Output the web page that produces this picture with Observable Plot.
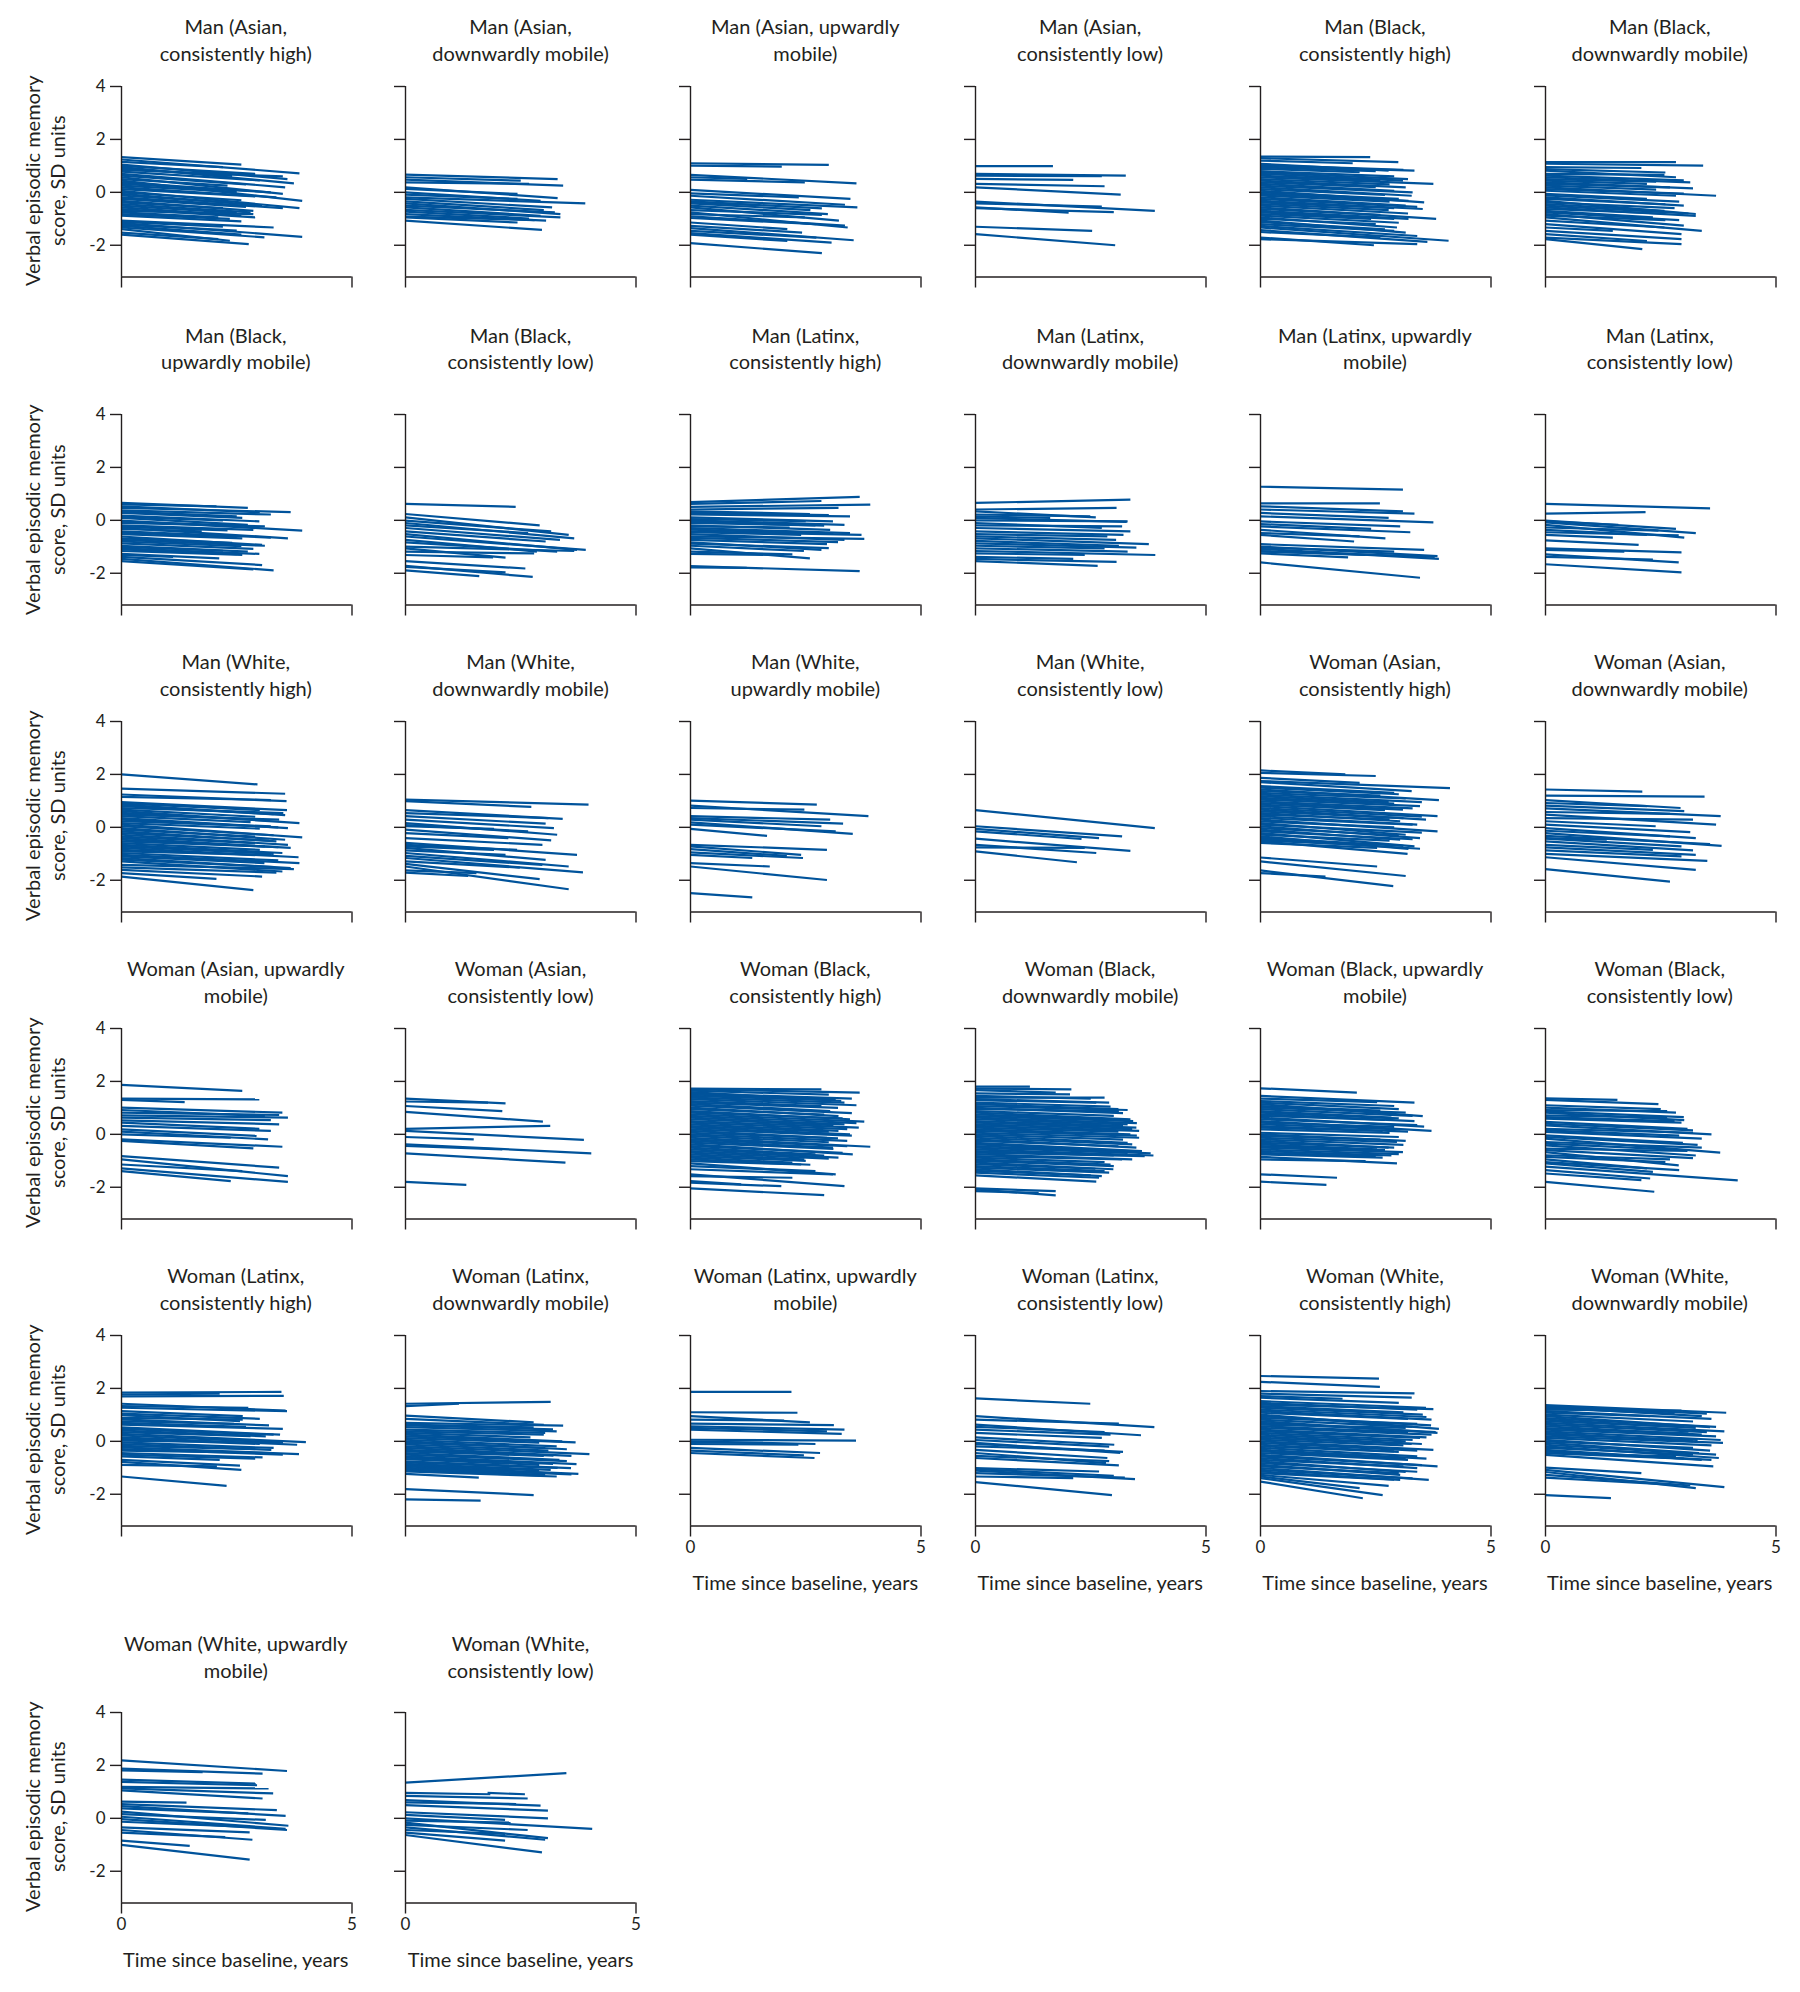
<!DOCTYPE html>
<html><head><meta charset="utf-8">
<script src="https://cdn.jsdelivr.net/npm/d3@7"></script>
<script src="https://cdn.jsdelivr.net/npm/@observablehq/plot@0.6"></script>
<style>
body{margin:0;background:#fff}
#root{position:relative;width:1800px;height:1992px;font-family:Lato,sans-serif;color:#231f20;overflow:hidden}
.ttl{position:absolute;width:320px;text-align:center;font-size:20px;line-height:26.5px;white-space:nowrap}
.ylab{position:absolute;width:320px;height:49.4px;text-align:center;font-size:20px;line-height:24.7px;transform:rotate(-90deg);white-space:nowrap}
.xlab{position:absolute;width:320px;text-align:center;font-size:20px;line-height:24px;white-space:nowrap}
.pnl{position:absolute}
</style></head>
<body><div id="root"></div>
<script>
// ---- Data: each line is [y at baseline, last time (years), y at last time] (or [x0, y0, x1, y1])
const manAsianHigh = [[1.33,2.6,1.05],[1.24,3.86,0.72],[1.15,2.2,0.95],[1.05,3.6,0.5],[1.0,2.9,0.7],[0.95,3.74,0.34],[0.9,2.4,0.62],[0.85,3.5,0.6],[0.78,3.0,0.45],[0.7,3.55,0.19],[0.63,2.7,0.3],[0.57,3.5,-0.06],[0.5,2.3,0.25],[0.44,3.92,-0.32],[0.38,2.8,0.05],[0.32,3.24,0],[0.25,2.5,0.02],[0.19,3.36,-0.19],[0.12,2.9,-0.15],[0.06,3.86,-0.6],[0,2.6,-0.3],[-0.06,3.05,-0.5],[-0.12,2.3,-0.38],[-0.19,3.5,-0.6],[-0.25,2.7,-0.55],[-0.32,2.86,-0.7],[-0.38,2.2,-0.6],[-0.44,2.8,-0.76],[-0.5,2.5,-0.78],[-0.57,2.6,-0.88],[-0.63,2.9,-0.95],[-0.7,2.86,-0.82],[-0.76,2.1,-0.95],[-0.82,2.35,-1.0],[-0.88,2.6,-1.1],[-1.07,3.3,-1.33],[-1.12,2.2,-1.3],[-1.16,3.92,-1.68],[-1.22,2.5,-1.45],[-1.27,2.6,-1.6],[-1.33,3.1,-1.7],[-1.39,2.35,-1.83],[-1.52,2.1,-1.77],[-1.6,2.76,-1.96]];
const manAsianDown = [[0.67,3.3,0.5],[0.57,2.5,0.44],[0.48,3.42,0.25],[0.38,2.68,0.32],[0.19,3.3,-0.22],[0.13,2.43,-0.06],[0,2.93,-0.32],[-0.09,2.43,-0.25],[-0.19,3.9,-0.42],[-0.25,3.18,-0.57],[-0.34,3.0,-0.67],[-0.42,3.36,-0.82],[-0.5,3.24,-0.76],[-0.57,2.93,-0.89],[-0.66,3.36,-0.95],[-0.73,2.68,-0.99],[-0.82,3.05,-1.07],[-0.92,2.8,-1.05],[-0.95,2.43,-1.14],[-1.07,2.96,-1.42]];
const manAsianUp = [[1.1,3.0,1.04],[1.01,1.98,0.97],[0.66,3.6,0.34],[0.57,1.23,0.51],[0.48,2.48,0.38],[0.09,3.47,-0.25],[-0.04,2.35,-0.19],[-0.13,3.35,-0.47],[-0.28,3.62,-0.57],[-0.34,2.85,-0.61],[-0.38,1.48,-0.48],[-0.42,2.6,-0.67],[-0.5,2.98,-0.82],[-0.57,3.22,-1.07],[-0.67,2.85,-0.85],[-0.76,3.41,-1.33],[-0.82,2.48,-0.95],[-0.91,3.35,-1.26],[-0.97,2.73,-1.2],[-1.14,2.1,-1.39],[-1.27,2.42,-1.52],[-1.35,3.54,-1.81],[-1.46,2.73,-1.71],[-1.54,3.06,-1.9],[-1.6,2.1,-1.84],[-1.92,2.85,-2.3]];
const manAsianLow = [[0.99,1.68,0.99],[0.7,3.26,0.63],[0.63,2.74,0.61],[0.51,2.12,0.47],[0.32,2.8,0.23],[0.19,3.15,-0.09],[-0.35,3.89,-0.7],[-0.42,2.74,-0.54],[-0.57,2.02,-0.77],[-0.6,3.0,-0.75],[-1.3,2.53,-1.46],[-1.58,3.03,-2.0]];
const manBlackHigh = [[1.35,2.38,1.33],[1.29,2.99,1.14],[1.2,2.0,1.1],[1.08,2.78,0.82],[1.03,3.1,0.85],[0.99,3.34,0.82],[0.94,2.5,0.8],[0.89,2.15,0.76],[0.8,2.9,0.6],[0.75,3.2,0.5],[0.7,3.09,0.44],[0.63,2.6,0.45],[0.57,3.75,0.32],[0.5,2.8,0.3],[0.44,3.15,0.19],[0.38,2.5,0.2],[0.32,2.9,0.06],[0.25,3.3,0],[0.19,3.28,-0.13],[0.12,2.7,-0.1],[0.06,3.55,-0.38],[0,3.0,-0.25],[-0.06,3.21,-0.32],[-0.12,2.8,-0.35],[-0.19,3.15,-0.5],[-0.25,3.4,-0.55],[-0.32,3.52,-0.63],[-0.38,2.9,-0.6],[-0.44,2.78,-0.67],[-0.5,3.2,-0.8],[-0.57,3.81,-1.0],[-0.63,2.6,-0.85],[-0.7,3.21,-1.0],[-0.76,2.9,-1.0],[-0.82,2.4,-1.0],[-0.88,3.0,-1.15],[-0.95,2.96,-1.33],[-1.0,2.5,-1.2],[-1.07,3.15,-1.52],[-1.12,2.7,-1.4],[-1.2,2.9,-1.46],[-1.27,3.4,-1.65],[-1.33,4.08,-1.83],[-1.43,3.62,-1.87],[-1.5,2.6,-1.7],[-1.71,2.46,-2.0],[-1.77,3.4,-1.96]];
const manBlackDown = [[1.14,2.83,1.14],[1.08,3.42,1.01],[0.95,2.08,0.92],[0.88,2.6,0.75],[0.82,2.83,0.57],[0.7,2.58,0.66],[0.63,3.0,0.45],[0.57,3.14,0.38],[0.5,2.4,0.4],[0.44,2.2,0.32],[0.38,3.2,0.15],[0.32,2.7,0.19],[0.25,2.4,0.1],[0.19,3.7,-0.13],[0.12,3.0,-0.05],[0.06,2.83,-0.13],[-0.06,2.2,-0.25],[-0.12,2.9,-0.35],[-0.19,3.0,-0.5],[-0.25,2.6,-0.45],[-0.32,3.26,-0.82],[-0.38,2.8,-0.6],[-0.44,2.58,-0.7],[-0.5,3.1,-0.8],[-0.57,3.26,-0.89],[-0.63,2.5,-0.8],[-0.7,2.33,-0.95],[-0.76,2.9,-1.05],[-0.82,3.0,-1.26],[-0.88,2.6,-1.05],[-0.95,3.39,-1.46],[-1.07,2.58,-1.33],[-1.2,2.95,-1.58],[-1.33,1.46,-1.46],[-1.46,2.95,-1.77],[-1.58,2.2,-1.84],[-1.71,2.95,-1.96],[-1.77,2.1,-2.15]];
const manBlackUp = [[0.66,2.74,0.47],[0.6,2.06,0.53],[0.53,3.0,0.3],[0.47,3.67,0.31],[0.38,3.24,0.22],[0.33,2.5,0.15],[0.28,2.62,0.09],[0.18,2.99,-0.04],[0.13,2.2,0.0],[0.09,2.74,-0.17],[-0.01,3.92,-0.39],[-0.05,2.6,-0.2],[-0.1,3.11,-0.23],[-0.19,2.86,-0.36],[-0.25,2.3,-0.38],[-0.29,3.61,-0.68],[-0.32,1.74,-0.42],[-0.42,3.24,-0.65],[-0.47,2.5,-0.62],[-0.52,2.62,-0.68],[-0.61,3.05,-0.93],[-0.68,2.4,-0.85],[-0.74,3.11,-0.96],[-0.8,2.6,-0.98],[-0.87,2.86,-1.08],[-0.96,2.74,-1.18],[-1.0,2.2,-1.15],[-1.06,2.99,-1.27],[-1.1,2.5,-1.28],[-1.16,2.62,-1.31],[-1.27,2.12,-1.44],[-1.31,1.12,-1.38],[-1.38,3.05,-1.69],[-1.46,3.3,-1.89],[-1.54,2.86,-1.85]];
const manBlackLow = [[0.62,2.39,0.51],[0.24,2.91,-0.19],[0.11,3.54,-0.55],[-0.01,3.16,-0.42],[-0.1,3.66,-0.68],[-0.19,2.66,-0.48],[-0.29,3.35,-0.74],[-0.42,3.04,-0.8],[-0.52,3.72,-1.12],[-0.61,3.91,-1.12],[-0.74,2.85,-1.18],[-0.83,3.29,-1.18],[-0.99,3.66,-1.16],[-1.06,2.17,-1.41],[-1.18,2.79,-1.25],[-1.31,1.9,-1.4],[-1.54,2.6,-1.82],[-1.72,2.76,-2.14],[-1.76,2.17,-1.97],[-1.89,1.6,-2.11]];
const manLatinxHigh = [[0.69,3.67,0.89],[0.62,2.84,0.73],[0.51,3.9,0.59],[0.41,3.21,0.47],[0.34,2.59,0.24],[0.28,3.0,0.2],[0.22,3.46,0.15],[0.11,3.09,-0.04],[0.05,2.5,-0.03],[0,3.34,-0.17],[-0.04,1.72,-0.1],[-0.05,2.9,-0.2],[-0.1,2.71,-0.19],[-0.19,3.03,-0.36],[-0.23,2.15,-0.27],[-0.29,3.46,-0.48],[-0.35,3.1,-0.5],[-0.42,3.71,-0.55],[-0.45,2.4,-0.55],[-0.52,3.34,-0.74],[-0.61,3.77,-0.7],[-0.66,3.2,-0.82],[-0.74,2.96,-0.9],[-0.83,2.84,-1.12],[-0.88,3.0,-1.05],[-0.96,2.46,-1.16],[-1.06,2.59,-1.44],[-1.18,2.21,-1.29],[-1.27,1.96,-1.31],[-1.73,3.67,-1.92],[-1.78,1.22,-1.8]];
const manLatinxDown = [[0.66,3.36,0.78],[0.41,3.06,0.47],[0.34,2.61,0.11],[0.22,2.49,0.15],[0.15,1.62,0.09],[0.09,3.28,-0.06],[0,3.3,-0.04],[-0.1,2.74,-0.29],[-0.19,3.18,-0.23],[-0.29,3.36,-0.42],[-0.42,3.21,-0.55],[-0.52,2.86,-0.61],[-0.61,3.05,-0.74],[-0.68,3.76,-0.9],[-0.78,3.11,-0.96],[-0.87,3.49,-1.03],[-0.96,2.8,-1.06],[-1.06,3.3,-1.18],[-1.16,3.9,-1.31],[-1.25,2.37,-1.31],[-1.38,2.12,-1.46],[-1.46,3.06,-1.57],[-1.54,2.65,-1.72]];
const manLatinxUp = [[1.27,3.09,1.16],[0.64,2.59,0.64],[0.53,3.09,0.34],[0.41,3.34,0.25],[0.28,2.78,0.09],[0.15,3.75,-0.08],[-0.04,3.03,-0.23],[-0.14,2.4,-0.32],[-0.23,3.25,-0.45],[-0.36,2.71,-0.68],[-0.48,2.15,-0.61],[-0.55,2.03,-0.8],[-0.9,3.55,-1.12],[-0.99,3.84,-1.35],[-1.03,2.9,-1.18],[-1.08,3.87,-1.46],[-1.16,3.78,-1.38],[-1.18,2.28,-1.31],[-1.25,1.9,-1.4],[-1.59,3.46,-2.17]];
const manLatinxLow = [[0.62,3.57,0.45],[0.25,2.17,0.31],[-0.01,2.83,-0.32],[-0.04,1.58,-0.17],[-0.08,3.26,-0.48],[-0.17,3.01,-0.65],[-0.27,2.45,-0.39],[-0.36,2.2,-0.55],[-0.45,2.89,-0.57],[-0.55,1.46,-0.65],[-0.76,2.02,-0.93],[-1.06,2.95,-1.21],[-1.12,1.71,-1.18],[-1.29,2.89,-1.59],[-1.38,2.33,-1.48],[-1.66,2.95,-1.97]];
const manWhiteHigh = [[2.0,2.95,1.62],[1.46,3.55,1.27],[1.24,3.58,0.99],[1.15,3.24,1.03],[0.95,3.59,0.65],[0.9,3.0,0.65],[0.86,3.55,0.46],[0.8,3.3,0.5],[0.73,3.51,0.54],[0.67,2.9,0.4],[0.61,3.86,0.16],[0.55,3.2,0.25],[0.48,3.42,0.29],[0.42,2.8,0.2],[0.35,3.61,-0.03],[0.29,3.4,0.0],[0.23,3.24,0.04],[0.16,3.0,-0.05],[0.1,3.92,-0.38],[0.04,3.3,-0.3],[-0.03,3.55,-0.47],[-0.09,2.9,-0.35],[-0.15,3.36,-0.53],[-0.22,3.2,-0.5],[-0.28,3.61,-0.66],[-0.35,2.9,-0.6],[-0.41,3.67,-0.78],[-0.47,3.4,-0.75],[-0.53,3.11,-0.72],[-0.6,3.0,-0.85],[-0.66,3.49,-0.97],[-0.72,3.3,-1.0],[-0.78,3.84,-1.13],[-0.85,2.9,-1.05],[-0.91,3.24,-1.04],[-0.97,3.4,-1.25],[-1.04,3.86,-1.35],[-1.1,3.1,-1.35],[-1.16,3.67,-1.54],[-1.22,3.3,-1.5],[-1.29,3.49,-1.67],[-1.42,3.74,-1.58],[-1.51,3.36,-1.71],[-1.61,3.05,-1.86],[-1.73,2.06,-1.95],[-1.86,2.86,-2.37]];
const manWhiteDown = [[1.05,3.97,0.86],[0.99,2.73,0.77],[0.65,3.41,0.32],[0.54,3.1,0.35],[0.42,3.04,0.14],[0.29,3.22,-0.03],[0.16,3.29,-0.28],[0.08,2.66,-0.15],[0.04,1.92,-0.06],[-0.09,3.16,-0.49],[-0.22,2.23,-0.41],[-0.41,2.97,-0.66],[-0.59,3.72,-1.04],[-0.66,2.42,-0.85],[-0.72,1.92,-0.85],[-0.78,3.04,-1.23],[-0.87,2.17,-1.04],[-0.97,3.54,-1.48],[-1.08,2.97,-1.42],[-1.16,3.85,-1.7],[-1.29,2.48,-1.52],[-1.38,2.91,-1.96],[-1.48,3.54,-2.34],[-1.63,1.54,-1.73],[-1.71,1.36,-1.84]];
const manWhiteUp = [[1.01,2.74,0.86],[0.82,3.86,0.42],[0.73,2.47,0.67],[0.42,3.03,0.29],[0.35,3.31,0.14],[0.29,2.84,0.04],[0.19,3.52,-0.25],[0.1,3.15,-0.15],[-0.06,1.66,-0.32],[-0.66,2.96,-0.85],[-0.72,2.4,-1.04],[-0.82,2.09,-1.08],[-0.95,2.44,-1.16],[-1.04,1.34,-1.16],[-1.35,1.72,-1.48],[-1.48,2.96,-1.99],[-2.49,1.34,-2.65]];
const manWhiteLow = [[0.65,3.89,-0.03],[0.04,3.18,-0.34],[-0.06,2.68,-0.41],[-0.15,2.3,-0.44],[-0.43,3.36,-0.89],[-0.66,2.62,-0.97],[-0.76,2.37,-0.78],[-0.91,2.2,-1.32]];
const womanAsianHigh = [[2.15,1.84,2.0],[2.06,2.5,1.94],[1.87,2.15,1.68],[1.75,4.11,1.48],[1.71,3.28,1.37],[1.56,2.9,1.3],[1.5,3.0,1.25],[1.43,3.87,1.03],[1.37,2.6,1.2],[1.3,3.15,1.09],[1.24,3.5,0.95],[1.18,2.78,0.95],[1.11,2.9,0.9],[1.05,3.46,0.8],[0.98,3.3,0.72],[0.92,3.09,0.67],[0.86,2.7,0.65],[0.8,3.84,0.42],[0.73,3.5,0.4],[0.67,3.59,0.29],[0.6,3.1,0.35],[0.54,3.03,0.23],[0.48,2.8,0.3],[0.42,3.4,0.1],[0.35,3.3,0.1],[0.29,3.84,-0.15],[0.22,2.9,0.0],[0.16,3.15,-0.28],[0.1,3.5,-0.2],[0.04,3.46,-0.41],[-0.03,3.0,-0.3],[-0.09,3.03,-0.47],[-0.15,3.3,-0.45],[-0.22,3.34,-0.72],[-0.28,2.8,-0.5],[-0.34,3.21,-0.82],[-0.4,3.1,-0.7],[-0.44,3.46,-0.81],[-0.5,2.5,-0.68],[-0.53,3.19,-1.0],[-0.59,2.53,-0.78],[-1.14,2.53,-1.48],[-1.29,3.15,-1.84],[-1.63,2.88,-2.22],[-1.73,1.41,-1.86]];
const womanAsianDown = [[1.43,2.1,1.35],[1.2,3.45,1.16],[1.03,2.93,0.73],[0.92,2.2,0.8],[0.82,3.01,0.61],[0.72,3.8,0.42],[0.58,2.7,0.51],[0.48,3.7,0.1],[0.35,3.2,0.29],[0.23,2.39,0.04],[0.1,3.14,-0.18],[-0.03,3.26,-0.41],[-0.13,2.7,-0.34],[-0.22,3.82,-0.7],[-0.32,3.57,-0.63],[-0.41,1.33,-0.47],[-0.43,2.95,-0.72],[-0.53,3.2,-0.87],[-0.66,2.33,-0.85],[-0.76,3.26,-1.04],[-0.87,2.95,-1.1],[-1.0,3.51,-1.27],[-1.13,3.26,-1.61],[-1.58,2.7,-2.05]];
const womanAsianUp = [[1.87,2.62,1.64],[1.35,2.99,1.32],[1.3,1.37,1.22],[1.01,3.49,0.82],[0.92,3.11,0.69],[0.82,3.42,0.73],[0.72,3.61,0.63],[0.63,3.24,0.54],[0.53,3.42,0.38],[0.44,2.99,0.21],[0.32,3.24,0.13],[0.19,2.93,-0.06],[0.1,3.18,-0.19],[0,2.37,-0.13],[-0.19,3.49,-0.47],[-0.25,2.86,-0.53],[-0.82,3.42,-1.26],[-0.95,3.61,-1.58],[-1.14,2.62,-1.39],[-1.29,3.61,-1.8],[-1.39,2.37,-1.77]];
const womanAsianLow = [[1.35,2.17,1.17],[1.24,1.79,1.2],[1.07,2.1,0.88],[0.85,2.98,0.48],[0.21,3.14,0.32],[0.13,3.87,-0.21],[-0.1,1.48,-0.19],[-0.38,4.03,-0.72],[-0.44,2.1,-0.57],[-0.72,3.47,-1.07],[-1.8,1.32,-1.91]];
const womanBlackHigh = [[1.73,2.84,1.7],[1.7,3.67,1.58],[1.65,3.0,1.5],[1.6,3.27,1.26],[1.55,3.5,1.35],[1.51,3.15,1.32],[1.45,2.9,1.3],[1.39,3.34,1.2],[1.33,3.6,1.1],[1.26,2.84,1.07],[1.2,3.2,1.0],[1.14,3.03,0.88],[1.08,3.5,0.8],[1.01,3.21,0.69],[0.95,2.9,0.75],[0.88,3.46,0.57],[0.82,3.3,0.6],[0.76,3.77,0.48],[0.7,3.6,0.42],[0.63,3.34,0.38],[0.57,3.1,0.35],[0.5,3.65,0.25],[0.44,3.4,0.2],[0.38,3.21,0.13],[0.31,3.0,0.1],[0.25,3.46,0],[0.19,3.5,-0.05],[0.13,2.96,-0.13],[0.06,3.2,-0.15],[0,3.4,-0.25],[-0.06,3.0,-0.3],[-0.13,3.9,-0.47],[-0.19,3.4,-0.45],[-0.25,3.09,-0.5],[-0.31,3.1,-0.55],[-0.38,3.52,-0.76],[-0.44,3.3,-0.7],[-0.5,2.71,-0.76],[-0.57,2.9,-0.8],[-0.63,3.21,-0.88],[-0.69,3.0,-0.92],[-0.76,2.47,-0.95],[-0.82,2.5,-1.0],[-0.88,2.21,-1.07],[-0.95,2.6,-1.15],[-1.01,2.4,-1.14],[-1.1,3.15,-1.51],[-1.2,2.71,-1.39],[-1.32,3.09,-1.51],[-1.51,3.34,-1.96],[-1.58,2.21,-1.64],[-1.77,1.1,-1.89],[-1.83,1.97,-1.96],[-2.04,2.9,-2.3]];
const womanBlackDown = [[1.8,1.18,1.8],[1.73,2.08,1.7],[1.67,1.74,1.58],[1.55,2.05,1.51],[1.45,2.5,1.35],[1.39,2.8,1.39],[1.33,2.9,1.2],[1.29,2.62,1.2],[1.2,2.93,1.05],[1.14,3.1,0.95],[1.07,3.3,0.92],[1.0,3.2,0.8],[0.95,3.11,0.88],[0.88,3.0,0.7],[0.82,3.36,0.57],[0.75,3.3,0.55],[0.69,3.42,0.5],[0.63,3.5,0.42],[0.57,3.3,0.38],[0.5,3.2,0.32],[0.44,3.49,0.25],[0.38,3.4,0.2],[0.32,3.55,0.13],[0.25,3.1,0.1],[0.19,3.36,0],[0.13,3.5,-0.05],[0.06,3.55,-0.13],[0,3.2,-0.2],[-0.06,3.3,-0.32],[-0.13,3.4,-0.38],[-0.19,3.49,-0.5],[-0.25,3.1,-0.45],[-0.32,3.61,-0.63],[-0.38,3.6,-0.65],[-0.44,3.8,-0.72],[-0.5,3.3,-0.7],[-0.57,3.86,-0.8],[-0.63,3.0,-0.8],[-0.69,3.67,-0.82],[-0.75,3.4,-0.95],[-0.82,3.18,-0.95],[-0.88,2.8,-1.05],[-0.95,2.93,-1.14],[-1.0,3.0,-1.2],[-1.07,2.99,-1.32],[-1.13,2.6,-1.3],[-1.2,2.8,-1.39],[-1.26,2.9,-1.45],[-1.32,2.74,-1.58],[-1.38,2.5,-1.55],[-1.45,2.68,-1.64],[-1.55,2.62,-1.79],[-2.04,1.74,-2.15],[-2.08,1.74,-2.31],[-2.15,1.37,-2.21]];
const womanBlackUp = [[1.74,2.09,1.58],[1.45,3.34,1.2],[1.35,2.53,1.22],[1.26,2.9,1.07],[1.2,3.0,0.95],[1.14,3.52,0.69],[1.07,2.6,0.9],[1.01,3.15,0.82],[0.95,3.3,0.7],[0.88,2.84,0.63],[0.82,3.0,0.6],[0.76,3.34,0.5],[0.7,2.7,0.55],[0.63,3.55,0.29],[0.57,3.4,0.35],[0.5,3.71,0.13],[0.44,2.9,0.28],[0.38,3.03,0.19],[0.31,3.2,0.1],[0.25,2.65,0.13],[0.19,2.8,0.05],[0.06,3.0,-0.1],[0,3.15,-0.25],[-0.06,2.6,-0.2],[-0.13,2.96,-0.29],[-0.19,3.1,-0.4],[-0.25,2.78,-0.5],[-0.32,2.9,-0.5],[-0.38,2.53,-0.57],[-0.44,2.7,-0.6],[-0.5,3.09,-0.67],[-0.57,3.0,-0.75],[-0.63,2.84,-0.8],[-0.7,2.5,-0.82],[-0.76,2.65,-0.88],[-0.85,2.96,-1.1],[-0.95,2.28,-1.01],[-1.51,1.66,-1.64],[-1.79,1.43,-1.91]];
const womanBlackLow = [[1.36,1.56,1.3],[1.3,2.45,1.14],[1.1,2.5,0.95],[1.01,2.83,0.82],[0.92,2.64,0.88],[0.87,3.0,0.65],[0.82,3.01,0.54],[0.72,2.64,0.63],[0.65,2.8,0.5],[0.59,2.95,0.44],[0.47,3.08,0.21],[0.4,3.2,0.15],[0.34,3.6,0],[0.21,3.2,0.06],[0.15,2.9,-0.05],[0.09,3.39,-0.16],[-0.04,2.98,-0.32],[-0.1,3.3,-0.4],[-0.16,3.79,-0.69],[-0.29,3.39,-0.5],[-0.35,3.0,-0.6],[-0.42,3.26,-0.8],[-0.54,3.08,-0.63],[-0.6,3.2,-0.9],[-0.67,2.89,-1.17],[-0.79,2.7,-0.95],[-0.85,2.6,-1.05],[-0.95,2.2,-1.29],[-1.05,2.9,-1.35],[-1.1,2.33,-1.42],[-1.22,4.17,-1.74],[-1.35,2.27,-1.67],[-1.48,2.08,-1.73],[-1.8,2.36,-2.17]];
const womanLatinxHigh = [[1.84,3.47,1.87],[1.77,2.13,1.8],[1.7,3.52,1.72],[1.42,3.56,1.16],[1.33,2.75,1.27],[1.27,3.59,1.14],[1.14,2.63,0.95],[1.05,3.0,0.85],[0.99,2.57,0.76],[0.89,2.63,0.82],[0.83,3.2,0.6],[0.76,2.44,0.66],[0.7,2.7,0.55],[0.63,3.5,0.47],[0.53,3.44,0.25],[0.47,3.3,0.25],[0.41,3.13,0.19],[0.35,2.8,0.2],[0.28,4.0,-0.03],[0.22,3.5,-0.05],[0.15,3.81,-0.13],[0.09,3.0,-0.1],[0.03,3.5,-0.06],[-0.04,3.3,-0.25],[-0.1,3.25,-0.32],[-0.17,2.9,-0.3],[-0.23,3.85,-0.48],[-0.29,3.5,-0.5],[-0.35,3.25,-0.44],[-0.44,3.06,-0.61],[-0.5,2.9,-0.65],[-0.57,2.13,-0.7],[-0.7,2.57,-0.92],[-0.78,2.6,-1.08],[-0.89,2.07,-0.95],[-1.33,2.28,-1.68]];
const womanLatinxDown = [[1.42,3.15,1.49],[1.33,1.16,1.42],[0.97,2.78,0.72],[0.85,3.0,0.62],[0.7,3.42,0.59],[0.63,2.78,0.53],[0.6,3.2,0.45],[0.54,3.28,0.38],[0.44,3.03,0.32],[0.38,3.0,0.25],[0.32,2.71,0.15],[0.25,3.4,0.0],[0.19,3.69,-0.04],[0.12,2.9,-0.05],[0.06,3.28,-0.19],[0,3.5,-0.3],[-0.06,3.03,-0.25],[-0.12,3.1,-0.35],[-0.19,3.99,-0.48],[-0.25,3.6,-0.55],[-0.32,3.21,-0.54],[-0.38,3.0,-0.55],[-0.44,3.34,-0.7],[-0.5,3.5,-0.75],[-0.57,3.71,-0.86],[-0.62,3.2,-0.85],[-0.67,2.9,-0.89],[-0.76,3.59,-1.01],[-0.8,3.3,-1.0],[-0.85,3.15,-1.08],[-0.9,2.9,-1.1],[-0.95,3.75,-1.23],[-1.0,3.6,-1.25],[-1.04,3.03,-1.27],[-1.1,3.0,-1.3],[-1.14,3.28,-1.33],[-1.23,1.59,-1.37],[-1.81,2.78,-2.03],[-2.19,1.63,-2.24]];
const womanLatinxUp = [[1.87,2.19,1.87],[1.1,2.32,1.08],[0.95,2.59,0.72],[0.82,2.03,0.78],[0.67,3.11,0.61],[0.57,3.34,0.44],[0.51,2.96,0.38],[0.44,3.28,0.28],[0.06,3.59,0.03],[0,2.71,-0.1],[-0.04,1.6,-0.06],[-0.1,2.34,-0.13],[-0.25,2.81,-0.44],[-0.35,2.46,-0.53],[-0.44,2.69,-0.63]];
const womanLatinxLow = [[1.62,2.49,1.42],[0.95,3.88,0.54],[0.82,3.11,0.67],[0.63,3.59,0.23],[0.55,2.8,0.35],[0.44,2.93,0.25],[0.32,2.74,0.13],[0.15,3.01,-0.13],[0.05,2.9,-0.2],[-0.06,3.14,-0.44],[-0.1,3.2,-0.4],[-0.19,2.8,-0.35],[-0.32,2.86,-0.63],[-0.44,2.83,-0.82],[-0.55,2.9,-0.75],[-0.63,3.11,-0.91],[-1.01,2.68,-1.14],[-1.05,3.0,-1.3],[-1.11,3.46,-1.43],[-1.2,3.24,-1.37],[-1.33,2.12,-1.39],[-1.54,2.96,-2.03]];
const womanWhiteHigh = [[2.47,2.57,2.37],[2.25,2.59,2.06],[1.9,3.34,1.81],[1.8,3.28,1.65],[1.71,1.78,1.61],[1.65,3.0,1.45],[1.52,3.59,1.27],[1.45,3.4,1.2],[1.39,3.75,1.22],[1.33,3.1,1.1],[1.27,3.52,1.01],[1.2,3.6,0.92],[1.14,3.71,0.82],[1.08,3.2,0.85],[1.01,3.87,0.47],[0.95,3.7,0.6],[0.89,3.4,0.66],[0.82,3.3,0.55],[0.76,3.84,0.32],[0.7,3.8,0.35],[0.63,3.15,0.51],[0.57,3.2,0.35],[0.51,3.71,0.25],[0.44,3.6,0.15],[0.38,3.46,0.13],[0.32,3.3,0.05],[0.25,3.15,0],[0.19,3.5,-0.1],[0.13,3.28,-0.1],[0.06,3.1,-0.15],[0,3.75,-0.32],[-0.06,3.4,-0.35],[-0.13,2.9,-0.38],[-0.19,3.0,-0.4],[-0.25,3.4,-0.57],[-0.32,3.6,-0.65],[-0.38,3.15,-0.66],[-0.44,3.2,-0.7],[-0.51,3.84,-0.95],[-0.57,3.5,-0.9],[-0.63,3.4,-1.01],[-0.7,3.1,-0.95],[-0.76,3.15,-1.16],[-0.82,3.4,-1.15],[-0.89,3.03,-1.27],[-0.95,3.0,-1.2],[-1.01,3.65,-1.46],[-1.08,3.3,-1.4],[-1.14,3.03,-1.46],[-1.2,2.9,-1.45],[-1.27,2.78,-1.68],[-1.33,2.15,-1.77],[-1.39,2.65,-2.03],[-1.52,2.22,-2.15]];
const womanWhiteDown = [[1.37,3.92,1.08],[1.33,3.5,1.05],[1.29,3.39,0.95],[1.25,2.8,1.05],[1.2,2.95,1.16],[1.14,3.6,0.85],[1.08,2.27,0.95],[1.01,3.2,0.75],[0.95,3.57,0.54],[0.88,3.7,0.55],[0.82,3.26,0.51],[0.76,3.0,0.55],[0.7,3.88,0.38],[0.63,3.5,0.35],[0.57,3.39,0.25],[0.5,3.1,0.3],[0.44,3.7,0.19],[0.38,3.8,0.05],[0.32,3.2,0],[0.25,3.3,0.05],[0.19,3.85,-0.06],[0.13,3.6,-0.15],[0.06,3.57,-0.35],[0,3.2,-0.25],[-0.06,3.33,-0.44],[-0.13,3.7,-0.5],[-0.19,3.76,-0.63],[-0.25,3.2,-0.5],[-0.32,3.39,-0.7],[-0.38,3.6,-0.7],[-0.44,2.83,-0.57],[-0.45,3.0,-0.65],[-0.51,3.64,-0.95],[-0.99,2.08,-1.2],[-1.08,3.88,-1.73],[-1.16,3.26,-1.77],[-1.27,3.14,-1.67],[-1.37,2.83,-1.65],[-2.03,1.42,-2.15]];
const womanWhiteUp = [[2.19,3.59,1.79],[1.88,3.06,1.69],[1.81,1.76,1.75],[1.46,2.91,1.31],[1.38,2.94,1.25],[1.19,3.19,1.13],[1.13,3.29,0.94],[1.06,3.06,0.75],[0.63,1.41,0.59],[0.54,3.37,0.31],[0.46,3.56,0.09],[0.38,2.75,0.19],[0.25,3.62,-0.28],[0.16,3.13,-0.06],[0.06,3.56,-0.4],[-0.03,3.59,-0.44],[-0.13,2.63,-0.31],[-0.34,2.78,-0.53],[-0.44,2.84,-0.81],[-0.54,2.25,-0.71],[-0.84,1.48,-1.04],[-1.0,2.78,-1.56]];
const womanWhiteLow = [[1.35,3.49,1.71],[1.78,0.96,2.59,0.91],[0.96,1.84,0.91],[0.85,2.65,0.75],[0.69,2.93,0.48],[0.6,2.4,0.54],[0.5,3.09,0.29],[0.23,3.09,0],[0.13,2.16,-0.06],[0,4.05,-0.4],[-0.09,2.28,-0.16],[-0.16,3.09,-0.75],[-0.25,2.65,-0.44],[-0.34,3.03,-0.81],[-0.44,2.16,-0.59],[-0.54,2.16,-0.84],[-0.63,2.96,-1.29]];

const panelNames = [
  ["Man (Asian,","consistently high)"],["Man (Asian,","downwardly mobile)"],["Man (Asian, upwardly","mobile)"],["Man (Asian,","consistently low)"],
  ["Man (Black,","consistently high)"],["Man (Black,","downwardly mobile)"],["Man (Black,","upwardly mobile)"],["Man (Black,","consistently low)"],
  ["Man (Latinx,","consistently high)"],["Man (Latinx,","downwardly mobile)"],["Man (Latinx, upwardly","mobile)"],["Man (Latinx,","consistently low)"],
  ["Man (White,","consistently high)"],["Man (White,","downwardly mobile)"],["Man (White,","upwardly mobile)"],["Man (White,","consistently low)"],
  ["Woman (Asian,","consistently high)"],["Woman (Asian,","downwardly mobile)"],["Woman (Asian, upwardly","mobile)"],["Woman (Asian,","consistently low)"],
  ["Woman (Black,","consistently high)"],["Woman (Black,","downwardly mobile)"],["Woman (Black, upwardly","mobile)"],["Woman (Black,","consistently low)"],
  ["Woman (Latinx,","consistently high)"],["Woman (Latinx,","downwardly mobile)"],["Woman (Latinx, upwardly","mobile)"],["Woman (Latinx,","consistently low)"],
  ["Woman (White,","consistently high)"],["Woman (White,","downwardly mobile)"],["Woman (White, upwardly","mobile)"],["Woman (White,","consistently low)"]
];
const panelLines = [manAsianHigh, manAsianDown, manAsianUp, manAsianLow, manBlackHigh, manBlackDown, manBlackUp, manBlackLow,
  manLatinxHigh, manLatinxDown, manLatinxUp, manLatinxLow, manWhiteHigh, manWhiteDown, manWhiteUp, manWhiteLow,
  womanAsianHigh, womanAsianDown, womanAsianUp, womanAsianLow, womanBlackHigh, womanBlackDown, womanBlackUp, womanBlackLow,
  womanLatinxHigh, womanLatinxDown, womanLatinxUp, womanLatinxLow, womanWhiteHigh, womanWhiteDown, womanWhiteUp, womanWhiteLow];
const yTicks = [4, 2, 0, -2];
const xTicks = [0, 5];
const yDomain = [-3.2, 4];
const xDomain = [0, 5];
const yTitle = ["Verbal episodic memory", "score, SD units"];
const xTitle = "Time since baseline, years";
const panelsWithXLabels = [26, 27, 28, 29, 30, 31];

// ---- Layout
const colX = [120.5, 405.3, 690.1, 974.9, 1259.7, 1544.5];
const rowTop = [85.5, 414.3, 720.7, 1027.7, 1334.7, 1711.7];
const titleY = [26.7, 335, 661.7, 968.3, 1275.7, 1643.3];
const PW = 230.5, PH = 190.5, ML = 60, MR = 15, MT = 10, MB = 45;
const BLUE = "#00539b", INK = "#231f20";

const root = document.getElementById("root");
const fmt = d => d < 0 ? "-" + Math.abs(d) : String(d);

panelLines.forEach((lines, i) => {
  const r = Math.floor(i / 6), c = i % 6;
  const segs = lines.map(l => l.length === 4 ? {x1: l[0], y1: l[1], x2: l[2], y2: l[3]} : {x1: 0, y1: l[0], x2: l[1], y2: l[2]});
  const showX = panelsWithXLabels.includes(i);
  const svg = Plot.plot({
    width: ML + PW + MR, height: MT + PH + MB,
    marginLeft: ML, marginRight: MR, marginTop: MT, marginBottom: MB,
    x: {domain: xDomain}, y: {domain: yDomain},
    style: {fontFamily: "Lato, sans-serif", fontSize: "17px", color: INK, background: "transparent", overflow: "visible", maxWidth: "none"},
    marks: [
      Plot.link(segs, {x1: "x1", y1: "y1", x2: "x2", y2: "y2", stroke: BLUE, strokeWidth: 2.2}),
      Plot.ruleX([0], {y1: yDomain[0], y2: yDomain[1], stroke: INK, strokeWidth: 1.4}),
      Plot.ruleY([yDomain[0]], {x1: xDomain[0], x2: xDomain[1], stroke: INK, strokeWidth: 1.4}),
      Plot.axisY({ticks: yTicks, tickSize: 11, tickPadding: 5, strokeWidth: 1.4, fontSize: 17, tickFormat: c === 0 ? fmt : () => "", label: null}),
      Plot.axisX({ticks: xTicks, tickSize: 11, tickPadding: 4, strokeWidth: 1.4, fontSize: 17, tickFormat: showX ? fmt : () => "", label: null})
    ]
  });
  const wrap = document.createElement("div");
  wrap.className = "pnl";
  wrap.style.left = (colX[c] - ML) + "px";
  wrap.style.top = (rowTop[r] - MT) + "px";
  wrap.appendChild(svg);
  root.appendChild(wrap);

  const cx = colX[c] + PW / 2;
  const t = document.createElement("div");
  t.className = "ttl";
  t.style.left = (cx - 160) + "px";
  t.style.top = (titleY[r] - 13.25) + "px";
  t.innerHTML = panelNames[i][0] + "<br>" + panelNames[i][1];
  root.appendChild(t);

  if (showX) {
    const xl = document.createElement("div");
    xl.className = "xlab";
    xl.style.left = (cx - 160) + "px";
    xl.style.top = (rowTop[r] + PH + 57 - 12) + "px";
    xl.textContent = xTitle;
    root.appendChild(xl);
  }
  if (c === 0) {
    const yl = document.createElement("div");
    yl.className = "ylab";
    const cy = rowTop[r] + PH / 2;
    yl.style.left = (45 - 160) + "px";
    yl.style.top = (cy - 24.7) + "px";
    yl.innerHTML = yTitle[0] + "<br>" + yTitle[1];
    root.appendChild(yl);
  }
});
</script>
</body></html>
